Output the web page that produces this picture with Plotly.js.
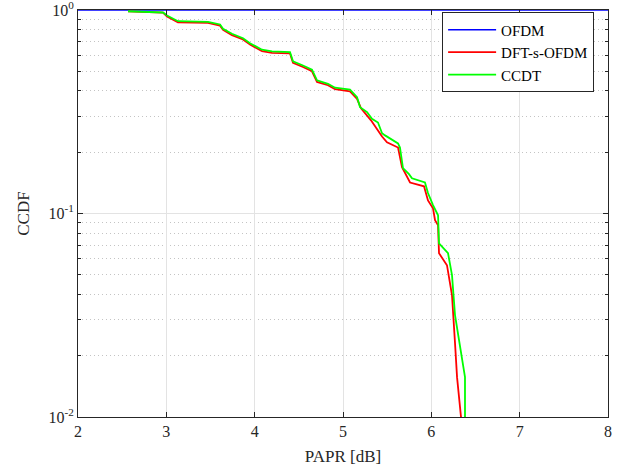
<!DOCTYPE html>
<html>
<head>
<meta charset="utf-8">
<script src="https://cdn.plot.ly/plotly-3.0.1.min.js"></script>
<style>html,body{margin:0;padding:0;background:#fff;}#chart{width:629px;height:471px;}</style>
</head>
<body>
<div id="chart"></div>
<script>
// OFDM curve (reads as CCDF = 1 across the whole range)
var ofdmX = [2, 8];
var ofdmY = [1, 1];

// DFT-s-OFDM
var dftX = [2.566, 2.962, 3.008, 3.132, 3.472, 3.608, 3.642, 3.743, 3.868, 3.947, 4.083, 4.196, 4.400, 4.434, 4.547, 4.649, 4.706, 4.830, 4.910, 5.079, 5.159, 5.204, 5.317, 5.442, 5.498, 5.623, 5.668, 5.702, 5.759, 5.917, 5.962, 6.019, 6.042, 6.076, 6.087, 6.177, 6.234, 6.268, 6.291, 6.336];
var dftY = [0.985, 0.970, 0.930, 0.870, 0.865, 0.838, 0.798, 0.752, 0.716, 0.676, 0.628, 0.616, 0.612, 0.550, 0.525, 0.500, 0.443, 0.427, 0.408, 0.398, 0.366, 0.329, 0.287, 0.239, 0.224, 0.211, 0.169, 0.158, 0.142, 0.136, 0.116, 0.106, 0.0927, 0.0875, 0.0638, 0.0557, 0.0397, 0.0231, 0.0157, 0.0100];

// CCDT
var ccdtX = [2.566, 2.962, 3.008, 3.132, 3.472, 3.608, 3.642, 3.743, 3.868, 3.947, 4.083, 4.196, 4.400, 4.434, 4.547, 4.649, 4.706, 4.830, 4.910, 5.079, 5.159, 5.193, 5.272, 5.328, 5.396, 5.442, 5.476, 5.623, 5.645, 5.679, 5.747, 5.781, 5.928, 5.962, 6.019, 6.076, 6.087, 6.189, 6.234, 6.268, 6.381, 6.381];
var ccdtY = [0.986, 0.972, 0.940, 0.881, 0.875, 0.849, 0.809, 0.764, 0.727, 0.687, 0.638, 0.626, 0.621, 0.559, 0.534, 0.509, 0.451, 0.434, 0.415, 0.406, 0.373, 0.333, 0.315, 0.292, 0.280, 0.248, 0.242, 0.221, 0.211, 0.167, 0.156, 0.149, 0.142, 0.126, 0.110, 0.098, 0.0714, 0.0638, 0.0498, 0.0317, 0.0157, 0.0100];

var xTicks = [2, 3, 4, 5, 6, 7, 8];
var yTickVals = [0.01, 0.1, 1];
var yTickText = ['10<sup>-2</sup>', '10<sup>-1</sup>', '10<sup>0</sup>'];

var serif = "'Liberation Serif', 'Times New Roman', Times, serif";
var axisColor = '#262626';

var traces = [
  {x: ofdmX, y: ofdmY, name: 'OFDM', mode: 'lines', line: {color: '#0000ff', width: 1.5}, cliponaxis: false},
  {x: dftX, y: dftY, name: 'DFT-s-OFDM', mode: 'lines', line: {color: '#ff0000', width: 1.8}},
  {x: ccdtX, y: ccdtY, name: 'CCDT', mode: 'lines', line: {color: '#00ff00', width: 1.8}}
];

var layout = {
  width: 629, height: 471,
  margin: {l: 78, r: 21, t: 9.5, b: 54, pad: 0},
  paper_bgcolor: '#ffffff', plot_bgcolor: '#ffffff',
  font: {family: serif, size: 16, color: axisColor},
  showlegend: true,
  legend: {
    x: 0.687, xanchor: 'left', y: 0.994, yanchor: 'top',
    bgcolor: '#ffffff', bordercolor: '#262626', borderwidth: 1,
    font: {family: serif, size: 15, color: '#000000'},
    itemwidth: 48
  },
  xaxis: {
    range: [2, 8], tickvals: xTicks, ticktext: xTicks.map(String),
    showline: true, linecolor: axisColor, linewidth: 1, mirror: 'ticks',
    ticks: 'inside', ticklen: 5, tickcolor: axisColor,
    showgrid: true, gridcolor: '#e3e3e3', gridwidth: 1, zeroline: false,
    tickfont: {family: serif, size: 16, color: axisColor},
    title: {text: 'PAPR [dB]', font: {family: serif, size: 17, color: axisColor}, standoff: 10}
  },
  yaxis: {
    type: 'log', range: [-2.00001, 0.00001], tickvals: yTickVals, ticktext: yTickText,
    ticklabeloverflow: 'allow',
    showline: true, linecolor: axisColor, linewidth: 1, mirror: 'ticks',
    ticks: 'inside', ticklen: 5, tickcolor: axisColor,
    showgrid: true, gridcolor: '#e3e3e3', gridwidth: 1, zeroline: false,
    tickfont: {family: serif, size: 16, color: axisColor},
    minor: {dtick: 'D1', ticks: 'inside', ticklen: 3, tickcolor: axisColor, showgrid: true, gridcolor: '#c4c4c4', griddash: '1px,3px', gridwidth: 1},
    title: {text: 'CCDF', font: {family: serif, size: 17, color: axisColor}, standoff: 14}
  }
};

Plotly.newPlot('chart', traces, layout, {displayModeBar: false, staticPlot: true});
</script>
</body>
</html>
